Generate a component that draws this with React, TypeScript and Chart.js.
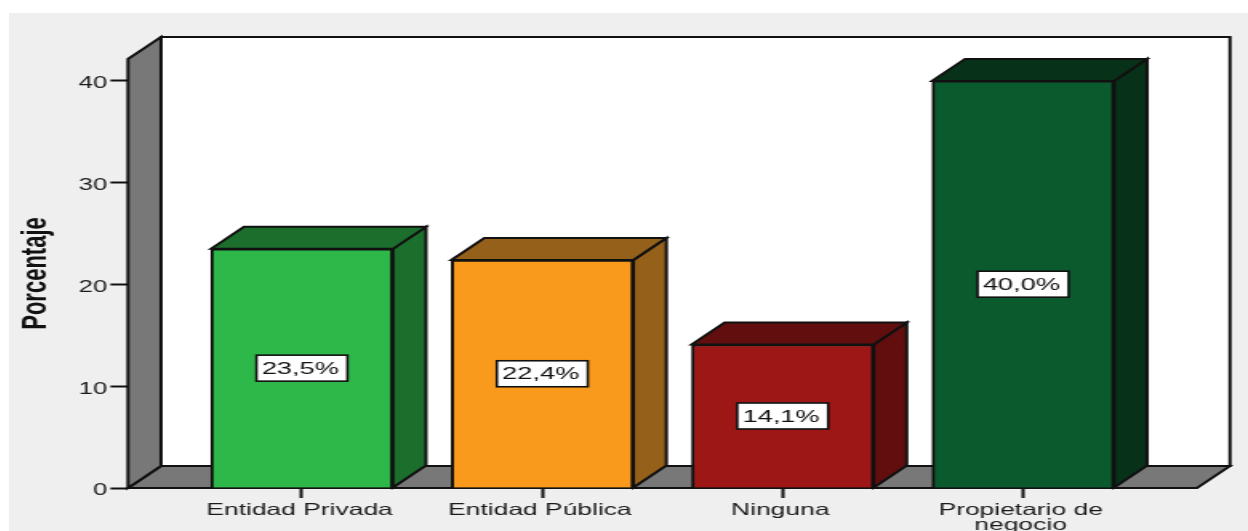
import React, { useEffect, useRef } from "react";
import { Chart, registerables } from "chart.js";

Chart.register(...registerables);

const categories = ["Entidad Privada", "Entidad Pública", "Ninguna", "Propietario de negocio"];
const tickLines = [["Entidad Privada"], ["Entidad Pública"], ["Ninguna"], ["Propietario de", "negocio"]];
const percentages = [23.5, 22.4, 14.1, 40.0];
const valueLabels = ["23,5%", "22,4%", "14,1%", "40,0%"];
const frontColors = ["#2fb84a", "#fa9a1d", "#9e1717", "#0b5a2e"];
const sideColors = ["#1c6e2c", "#95601a", "#630e0e", "#073118"];
const topColors = ["#1c6e2c", "#95601a", "#630e0e", "#073118"];

const CSS_W = 1239;
const CSS_H = 518;
const SX = 1.6; // the picture is stretched sideways, text included
const W = Math.round(CSS_W / SX);
const sx = CSS_W / W;
const DX = 33 / sx;
const DY = 22;
const LINE = "#111111";
const LW = 2;
const FONT = "'Liberation Sans', Arial, sans-serif";

const walls = {
  id: "walls",
  beforeDatasetsDraw(chart: any) {
    const { ctx, chartArea: a } = chart;
    ctx.save();
    ctx.lineWidth = LW;
    ctx.strokeStyle = LINE;
    ctx.lineJoin = "miter";
    // back wall
    ctx.fillStyle = "#ffffff";
    ctx.beginPath();
    ctx.rect(a.left + DX, a.top - DY, a.right - a.left, a.bottom - a.top);
    ctx.fill();
    ctx.stroke();
    // floor
    ctx.fillStyle = "#787878";
    ctx.beginPath();
    ctx.moveTo(a.left, a.bottom);
    ctx.lineTo(a.left + DX, a.bottom - DY);
    ctx.lineTo(a.right + DX, a.bottom - DY);
    ctx.lineTo(a.right, a.bottom);
    ctx.closePath();
    ctx.fill();
    ctx.stroke();
    // left wall
    ctx.beginPath();
    ctx.moveTo(a.left, a.bottom);
    ctx.lineTo(a.left, a.top);
    ctx.lineTo(a.left + DX, a.top - DY);
    ctx.lineTo(a.left + DX, a.bottom - DY);
    ctx.closePath();
    ctx.fill();
    ctx.stroke();
    ctx.restore();
  },
  afterDatasetsDraw(chart: any) {
    const { ctx } = chart;
    const meta = chart.getDatasetMeta(0);
    ctx.save();
    ctx.lineWidth = LW;
    ctx.strokeStyle = LINE;
    meta.data.forEach((bar: any, i: number) => {
      const half = bar.width / 2;
      const l = bar.x - half;
      const r = bar.x + half;
      const t = bar.y;
      const b = bar.base;
      ctx.fillStyle = sideColors[i];
      ctx.beginPath();
      ctx.moveTo(r, b);
      ctx.lineTo(r + DX, b - DY);
      ctx.lineTo(r + DX, t - DY);
      ctx.lineTo(r, t);
      ctx.closePath();
      ctx.fill();
      ctx.stroke();
      ctx.fillStyle = topColors[i];
      ctx.beginPath();
      ctx.moveTo(l, t);
      ctx.lineTo(l + DX, t - DY);
      ctx.lineTo(r + DX, t - DY);
      ctx.lineTo(r, t);
      ctx.closePath();
      ctx.fill();
      ctx.stroke();
      // value label
      const cy = (t + b) / 2;
      const bw = 91 / sx;
      const bh = 26;
      ctx.fillStyle = "#ffffff";
      ctx.lineWidth = 1.6;
      ctx.fillRect(bar.x - bw / 2, cy - bh / 2, bw, bh);
      ctx.strokeRect(bar.x - bw / 2, cy - bh / 2, bw, bh);
      ctx.lineWidth = LW;
      ctx.fillStyle = "#111111";
      ctx.font = `17px ${FONT}`;
      ctx.textAlign = "center";
      ctx.textBaseline = "middle";
      ctx.fillText(valueLabels[i], bar.x - 1, cy + 1);
    });
    ctx.restore();
  },
};

export default function App() {
  const ref = useRef<HTMLCanvasElement>(null);
  useEffect(() => {
    const chart = new Chart(ref.current as HTMLCanvasElement, {
      type: "bar",
      data: {
        labels: categories,
        datasets: [
          {
            label: "Porcentaje",
            data: percentages.map((y, x) => ({ x, y })) as any,
            backgroundColor: frontColors,
            borderColor: LINE,
            borderWidth: LW,
            barThickness: 182 / sx,
          },
        ],
      },
      plugins: [walls],
      options: {
        responsive: false,
        animation: false,
        devicePixelRatio: 1,
        layout: { padding: { left: 0, top: 46, right: 51 / sx, bottom: 0 } },
        plugins: { legend: { display: false }, tooltip: { enabled: false } },
        scales: {
          x: {
            type: "linear",
            min: -0.7235,
            max: 3.7235,
            offset: false,
            afterBuildTicks(scale: any) {
              scale.ticks = categories.map((_, value) => ({ value }));
            },
            afterFit(scale: any) {
              scale.height = 43;
            },
            grid: { offset: false, drawOnChartArea: false, tickLength: 10, tickColor: LINE, tickWidth: LW },
            border: { display: false },
            ticks: {
              autoSkip: false,
              maxRotation: 0,
              includeBounds: false,
              padding: 5,
              labelOffset: -1.5,
              color: "#1a1a1a",
              font: { family: FONT, size: 16.5, lineHeight: 0.92 },
              callback: (v: any) => tickLines[v],
            },
          },
          y: {
            min: 0,
            max: 42.15,
            afterFit(scale: any) {
              scale.width = 119 / sx;
            },
            grid: { drawOnChartArea: false, tickLength: 11, tickColor: LINE, tickWidth: LW },
            border: { display: false },
            title: {
              display: true,
              text: "Porcentaje",
              color: "#111111",
              font: { family: FONT, size: 22, weight: "bold" },
              padding: { top: 4, bottom: 0 },
            },
            ticks: {
              stepSize: 10,
              includeBounds: false,
              padding: 2,
              labelOffset: 3,
              color: "#1a1a1a",
              font: { family: FONT, size: 16 },
            },
          },
        },
      },
    } as any);
    return () => chart.destroy();
  }, []);
  return (
    <canvas
      ref={ref}
      width={W}
      height={CSS_H}
      style={{
        position: "fixed",
        left: 9,
        top: 13,
        width: CSS_W,
        height: CSS_H,
        background: "#efefef",
        filter: "blur(0.5px)",
      }}
    />
  );
}
